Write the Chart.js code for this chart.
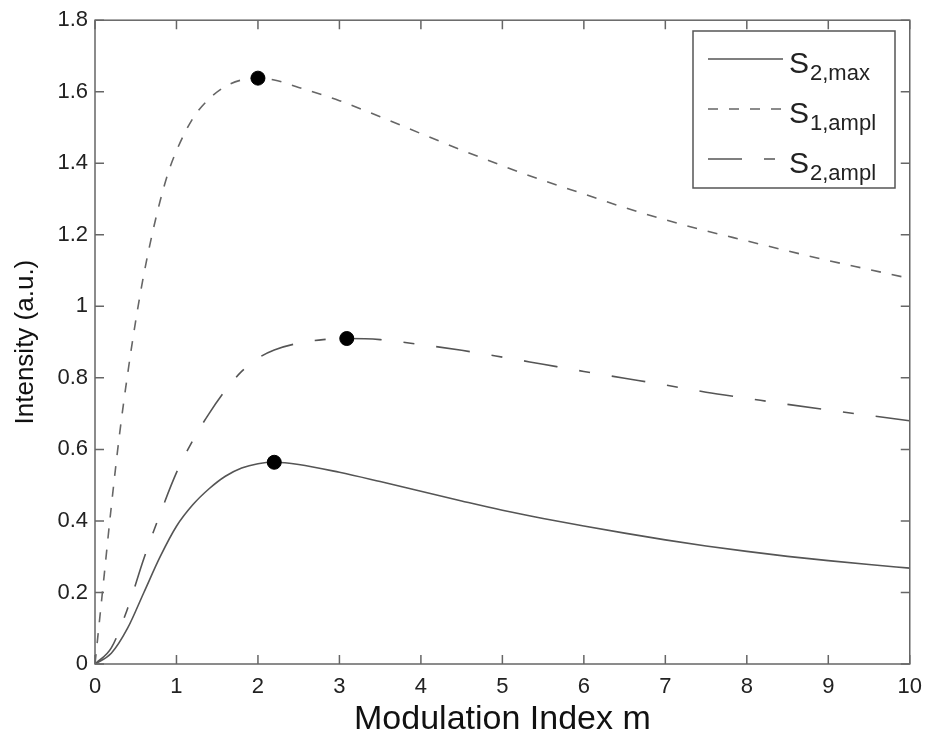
<!DOCTYPE html>
<html>
<head>
<meta charset="utf-8">
<script src="https://cdn.jsdelivr.net/npm/chart.js@4"></script>
<style>
  html, body { margin: 0; padding: 0; background: #fff; }
  #wrap { width: 932px; height: 738px; }
</style>
</head>
<body>
<div id="wrap"><canvas id="c" width="932" height="738"></canvas></div>
<script>
// ---- data ----
const mS1 = [0, 0.1, 0.2, 0.3, 0.4, 0.5, 0.6, 0.7, 0.8, 0.9, 1.0, 1.2, 1.4, 1.6, 1.8, 2.0, 2.2, 2.5, 3.0, 3.5, 4.0, 4.5, 5.0, 5.5, 6.0, 6.5, 7.0, 7.5, 8.0, 8.5, 9.0, 9.5, 10];
const vS1 = [0, 0.22, 0.44, 0.64, 0.81, 0.96, 1.09, 1.2, 1.295, 1.375, 1.435, 1.525, 1.58, 1.615, 1.633, 1.638, 1.633, 1.612, 1.575, 1.53, 1.483, 1.437, 1.393, 1.352, 1.314, 1.276, 1.242, 1.211, 1.183, 1.155, 1.128, 1.103, 1.078];

const mS2a = [0, 0.2, 0.4, 0.6, 0.8, 1.0, 1.2, 1.4, 1.6, 1.8, 2.0, 2.2, 2.5, 2.8, 3.1, 3.5, 4.0, 4.5, 5.0, 5.5, 6.0, 6.5, 7.0, 7.5, 8.0, 8.5, 9.0, 9.5, 10];
const vS2a = [0, 0.045, 0.155, 0.295, 0.42, 0.535, 0.625, 0.70, 0.765, 0.818, 0.855, 0.878, 0.897, 0.907, 0.91, 0.907, 0.893, 0.877, 0.858, 0.838, 0.818, 0.799, 0.78, 0.76, 0.743, 0.726, 0.71, 0.695, 0.68];

const mS2m = [0, 0.2, 0.4, 0.6, 0.8, 1.0, 1.2, 1.4, 1.6, 1.8, 2.0, 2.2, 2.5, 3.0, 3.5, 4.0, 4.5, 5.0, 5.5, 6.0, 6.5, 7.0, 7.5, 8.0, 8.5, 9.0, 9.5, 10];
const vS2m = [0, 0.03, 0.1, 0.2, 0.3, 0.385, 0.445, 0.49, 0.525, 0.548, 0.56, 0.564, 0.558, 0.536, 0.51, 0.483, 0.456, 0.43, 0.407, 0.386, 0.366, 0.347, 0.33, 0.315, 0.301, 0.289, 0.278, 0.268];

const peakM = [2.0, 3.09, 2.2];
const peakV = [1.638, 0.91, 0.564];

const xTicks = [0, 1, 2, 3, 4, 5, 6, 7, 8, 9, 10];
const yTicks = [0, 0.2, 0.4, 0.6, 0.8, 1, 1.2, 1.4, 1.6, 1.8];

const legendNames = [
  { main: 'S', sub: '2,max' },
  { main: 'S', sub: '1,ampl' },
  { main: 'S', sub: '2,ampl' }
];

const FONT = '"Liberation Sans", Arial, Helvetica, sans-serif';
const pts = (xs, ys) => xs.map((x, i) => ({ x: x, y: ys[i] }));

const frame = {
  id: 'frame',
  afterDatasetsDraw(chart) {
    const { ctx, chartArea: a, scales } = chart;
    const tl = 9;
    ctx.save();
    ctx.strokeStyle = '#666';
    ctx.lineWidth = 1.5;
    ctx.strokeRect(a.left, a.top, a.right - a.left, a.bottom - a.top);
    ctx.beginPath();
    xTicks.forEach(v => {
      const px = scales.x.getPixelForValue(v);
      ctx.moveTo(px, a.bottom); ctx.lineTo(px, a.bottom - tl);
      ctx.moveTo(px, a.top); ctx.lineTo(px, a.top + tl);
    });
    yTicks.forEach(v => {
      const py = scales.y.getPixelForValue(v);
      ctx.moveTo(a.left, py); ctx.lineTo(a.left + tl, py);
      ctx.moveTo(a.right, py); ctx.lineTo(a.right - tl, py);
    });
    ctx.stroke();
    ctx.restore();
  },
  afterDraw(chart) {
    const { ctx } = chart;
    const bx = 693, by = 31, bw = 202, bh = 157;
    ctx.save();
    ctx.fillStyle = '#fff';
    ctx.fillRect(bx, by, bw, bh);
    ctx.strokeStyle = '#555';
    ctx.lineWidth = 1.5;
    ctx.strokeRect(bx, by, bw, bh);
    [0, 1, 2].forEach((di, i) => {
      const ds = chart.data.datasets[di];
      const base = 73 + i * 50;
      const ly = base - 14;
      ctx.beginPath();
      ctx.setLineDash(ds.borderDash || []);
      ctx.strokeStyle = ds.borderColor;
      ctx.lineWidth = ds.borderWidth;
      ctx.moveTo(708, ly); ctx.lineTo(783, ly);
      ctx.stroke();
      ctx.setLineDash([]);
      ctx.fillStyle = '#222';
      ctx.textBaseline = 'alphabetic';
      ctx.textAlign = 'left';
      ctx.font = '30px ' + FONT;
      ctx.fillText(legendNames[i].main, 789, base);
      const w = ctx.measureText(legendNames[i].main).width;
      ctx.font = '22px ' + FONT;
      ctx.fillText(legendNames[i].sub, 789 + w + 1, base + 7);
    });
    ctx.restore();
  }
};

new Chart(document.getElementById('c'), {
  type: 'scatter',
  data: {
    datasets: [
      {
        label: 'S2,max', data: pts(mS2m, vS2m), showLine: true,
        borderColor: '#555', borderWidth: 1.6, borderDash: [],
        pointRadius: 0, cubicInterpolationMode: 'monotone', order: 1
      },
      {
        label: 'S1,ampl', data: pts(mS1, vS1), showLine: true,
        borderColor: '#666', borderWidth: 1.6, borderDash: [10, 11],
        pointRadius: 0, cubicInterpolationMode: 'monotone', order: 1
      },
      {
        label: 'S2,ampl', data: pts(mS2a, vS2a), showLine: true,
        borderColor: '#555', borderWidth: 1.6, borderDash: [34, 22, 11, 22],
        pointRadius: 0, cubicInterpolationMode: 'monotone', order: 1
      },
      {
        label: 'peaks', data: pts(peakM, peakV), showLine: false,
        pointRadius: 7, pointBackgroundColor: '#000', pointBorderColor: '#000',
        order: 0
      }
    ]
  },
  options: {
    responsive: false,
    animation: false,
    devicePixelRatio: 1,
    layout: { padding: { left: 0, top: 19, right: 19, bottom: 0 } },
    plugins: { legend: { display: false }, tooltip: { enabled: false } },
    scales: {
      x: {
        type: 'linear', min: 0, max: 10,
        afterBuildTicks: s => { s.ticks = xTicks.map(v => ({ value: v })); },
        afterFit: s => { s.height = 74; },
        grid: { display: false, drawTicks: false },
        border: { display: false },
        ticks: { color: '#222', font: { family: FONT, size: 22 }, padding: 10,
                 callback: v => String(v), maxRotation: 0 },
        title: { display: true, text: 'Modulation Index m', color: '#111',
                 font: { family: FONT, size: 34 }, padding: { top: 0, bottom: -2 } }
      },
      y: {
        type: 'linear', min: 0, max: 1.8,
        afterBuildTicks: s => { s.ticks = yTicks.map(v => ({ value: v })); },
        afterFit: s => { s.width = 95; },
        grid: { display: false, drawTicks: false },
        border: { display: false },
        ticks: { color: '#222', font: { family: FONT, size: 22 }, padding: 7,
                 callback: v => String(+(+v).toFixed(1)) },
        title: { display: true, text: 'Intensity (a.u.)', color: '#111',
                 font: { family: FONT, size: 26 }, padding: { top: 10, bottom: 0 } }
      }
    }
  },
  plugins: [frame]
});
</script>
</body>
</html>
